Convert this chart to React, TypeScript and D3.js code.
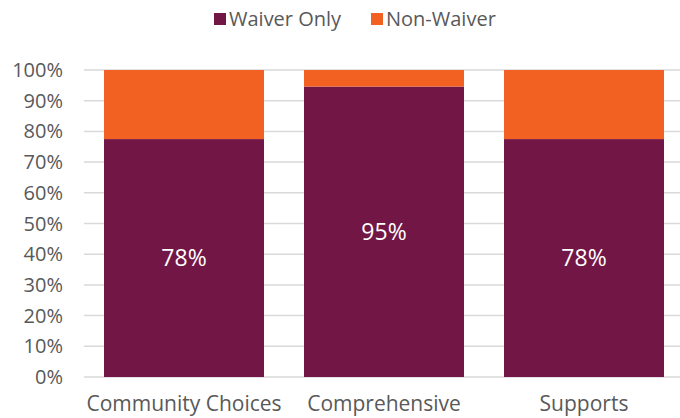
import React, { useEffect, useRef } from 'react';
import * as d3 from 'd3';

const categories = ['Community Choices', 'Comprehensive', 'Supports'];
const waiverOnly = [0.775, 0.946, 0.775];
const nonWaiver = [0.225, 0.054, 0.225];
const waiverLabels = ['78%', '95%', '78%'];
const seriesNames = ['Waiver Only', 'Non-Waiver'];
const colors = ['#721646', '#F26122'];

const W = 680;
const H = 418;
const margin = { left: 84, right: -4, top: 70, bottom: 41 };
const font = '"Open Sans", sans-serif';

export default function App() {
  const ref = useRef<SVGSVGElement>(null);

  useEffect(() => {
    const svg = d3.select(ref.current);
    svg.selectAll('*').remove();

    const x = d3.scaleBand()
      .domain(categories)
      .range([margin.left, W - margin.right])
      .paddingInner(0.2)
      .paddingOuter(0.1);
    const y = d3.scaleLinear().domain([0, 1]).range([H - margin.bottom, margin.top]);

    // gridlines
    svg.append('g').selectAll('line')
      .data(y.ticks(10))
      .enter().append('line')
      .attr('x1', margin.left).attr('x2', 680)
      .attr('y1', d => y(d)).attr('y2', d => y(d))
      .attr('stroke', '#d9d9d9').attr('stroke-width', 1.5);

    // y tick labels
    svg.append('g').selectAll('text')
      .data(y.ticks(10))
      .enter().append('text')
      .attr('x', 63).attr('y', d => y(d))
      .attr('dy', '0.35em')
      .attr('text-anchor', 'end')
      .attr('font-family', font).attr('font-size', 20)
      .attr('fill', '#595959')
      .text(d => d3.format('.0%')(d));

    const stacked = categories.map((c, i) => ({ c, a: waiverOnly[i], b: nonWaiver[i] }));
    const g = svg.append('g');
    g.selectAll('rect.w')
      .data(stacked)
      .enter().append('rect')
      .attr('x', d => x(d.c))
      .attr('width', x.bandwidth())
      .attr('y', d => y(d.a))
      .attr('height', d => y(0) - y(d.a))
      .attr('fill', colors[0]);
    g.selectAll('rect.n')
      .data(stacked)
      .enter().append('rect')
      .attr('x', d => x(d.c))
      .attr('width', x.bandwidth())
      .attr('y', d => y(d.a + d.b))
      .attr('height', d => y(d.a) - y(d.a + d.b))
      .attr('fill', colors[1]);

    // data labels
    g.selectAll('text.lbl')
      .data(stacked)
      .enter().append('text')
      .attr('x', d => x(d.c) + x.bandwidth() / 2)
      .attr('y', d => y(d.a / 2))
      .attr('dy', '0.35em')
      .attr('text-anchor', 'middle')
      .attr('font-family', font).attr('font-size', 23)
      .attr('fill', '#ffffff')
      .text((d, i) => waiverLabels[i]);

    // x labels
    svg.append('g').selectAll('text')
      .data(categories)
      .enter().append('text')
      .attr('x', d => x(d) + x.bandwidth() / 2)
      .attr('y', 404)
      .attr('dy', '0.35em')
      .attr('text-anchor', 'middle')
      .attr('font-family', font).attr('font-size', 21)
      .attr('fill', '#595959')
      .text(d => d);

    // legend
    const legendX = [214, 371];
    const lg = svg.append('g');
    seriesNames.forEach((s, i) => {
      lg.append('rect')
        .attr('x', legendX[i]).attr('y', 13)
        .attr('width', 12).attr('height', 12)
        .attr('fill', colors[i]);
      lg.append('text')
        .attr('x', legendX[i] + 15).attr('y', 19)
        .attr('dy', '0.35em')
        .attr('font-family', font).attr('font-size', 20)
        .attr('fill', '#595959')
        .text(s);
    });
  }, []);

  return <svg ref={ref} width={W} height={H} style={{ display: 'block', position: 'absolute', left: 0, top: 0 }} />;
}
